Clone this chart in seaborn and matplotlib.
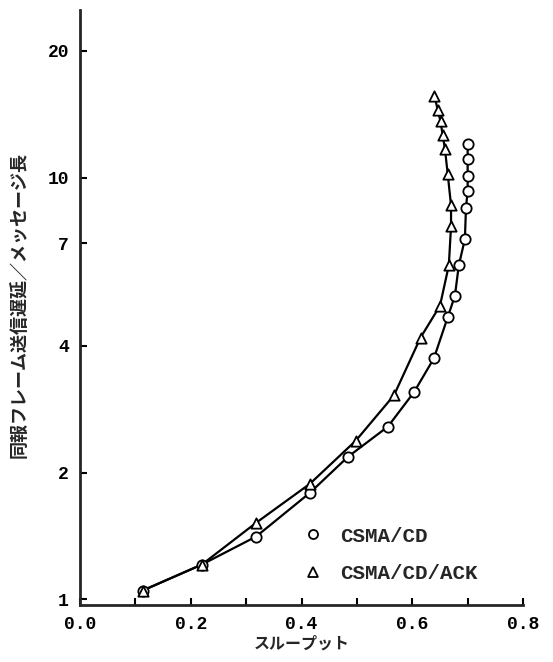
import numpy as np
import pandas as pd
import seaborn as sns
import matplotlib.pyplot as plt
from matplotlib.lines import Line2D

# === Dati ===
x_cd = [0.113, 0.22, 0.318, 0.415, 0.484, 0.556, 0.603, 0.639, 0.664, 0.677,
        0.684, 0.695, 0.697, 0.700, 0.700, 0.700, 0.700]
y_cd = [1.05, 1.21, 1.41, 1.79, 2.18, 2.57, 3.10, 3.73, 4.67, 5.25,
        6.2, 7.15, 8.5, 9.3, 10.1, 11.1, 12.0]

x_ack = [0.113, 0.22, 0.318, 0.415, 0.498, 0.567, 0.615, 0.650, 0.666, 0.670,
         0.670, 0.664, 0.659, 0.655, 0.651, 0.646, 0.640]
y_ack = [1.05, 1.21, 1.52, 1.88, 2.38, 3.05, 4.18, 4.97, 6.2, 7.68,
         8.6, 10.2, 11.7, 12.6, 13.6, 14.5, 15.6]

series_names = ['CSMA/CD', 'CSMA/CD/ACK']
x_ticks = [0.0, 0.2, 0.4, 0.6, 0.8]
y_ticks = [1, 2, 4, 7, 10, 20]
x_label = 'スループット'
y_label = '同報フレーム送信遅延／メッセージ長'

df_cd = pd.DataFrame({'x': x_cd, 'y': y_cd})
df_ack = pd.DataFrame({'x': x_ack, 'y': y_ack})

# === Stile ===
sns.set_style('ticks')
plt.rcParams['font.family'] = ['Liberation Mono', 'Noto Sans CJK JP', 'DejaVu Sans']
plt.rcParams['font.weight'] = 'bold'

fig = plt.figure(figsize=(5.53, 6.62), dpi=100)
ax = fig.add_axes([0.1447, 0.086, 0.8011, 0.899])

for df, mk in [(df_cd, 'o'), (df_ack, '^')]:
    sns.lineplot(data=df, x='x', y='y', sort=False, color='black', lw=1.6,
                 estimator=None, ax=ax)
    sns.scatterplot(data=df, x='x', y='y', marker=mk, s=55, facecolor='white',
                    edgecolor='black', linewidth=1.3, zorder=3, ax=ax)

ax.set_yscale('log')
ax.set_xlim(0.0, 0.8)
ax.set_ylim(0.97, 25)
ax.set_xticks(x_ticks)
ax.set_xticklabels([f'{v:.1f}' for v in x_ticks])
ax.set_xticks(np.arange(0.1, 0.8, 0.2), minor=True)
ax.set_yticks(y_ticks)
ax.set_yticklabels([str(v) for v in y_ticks])
ax.yaxis.set_minor_locator(plt.NullLocator())
ax.tick_params(axis='both', which='both', direction='in', length=5, width=1.5,
               labelsize=13, colors='black')
ax.tick_params(axis='y', pad=8)
ax.tick_params(axis='x', pad=8)
for lab in ax.get_xticklabels() + ax.get_yticklabels():
    lab.set_fontweight('bold')

sns.despine(ax=ax)
ax.spines['left'].set_linewidth(2)
ax.spines['bottom'].set_linewidth(2)

ax.set_xlabel('')
ax.set_ylabel('')
fig.text(0.545, 0.028, x_label, ha='center', va='center', fontsize=11.5,
         fontweight='bold', family=['Noto Sans CJK JP', 'DejaVu Sans'])
fig.text(0.036, 0.54, y_label, ha='center', va='center', rotation=90,
         fontsize=13, fontweight='bold', family=['Noto Sans CJK JP', 'DejaVu Sans'])

handles = [
    Line2D([], [], ls='none', marker='o', ms=6.5, mfc='white', mec='black', mew=1.3),
    Line2D([], [], ls='none', marker='^', ms=6.5, mfc='white', mec='black', mew=1.3),
]
ax.legend(handles, series_names, loc='lower left', bbox_to_anchor=(0.46, 0.005),
          frameon=False, prop={'family': 'Liberation Mono', 'size': 15, 'weight': 'bold'},
          handletextpad=0.8, labelspacing=0.9, handlelength=1.0)

fig.savefig('out.png', dpi=100, facecolor='white')
